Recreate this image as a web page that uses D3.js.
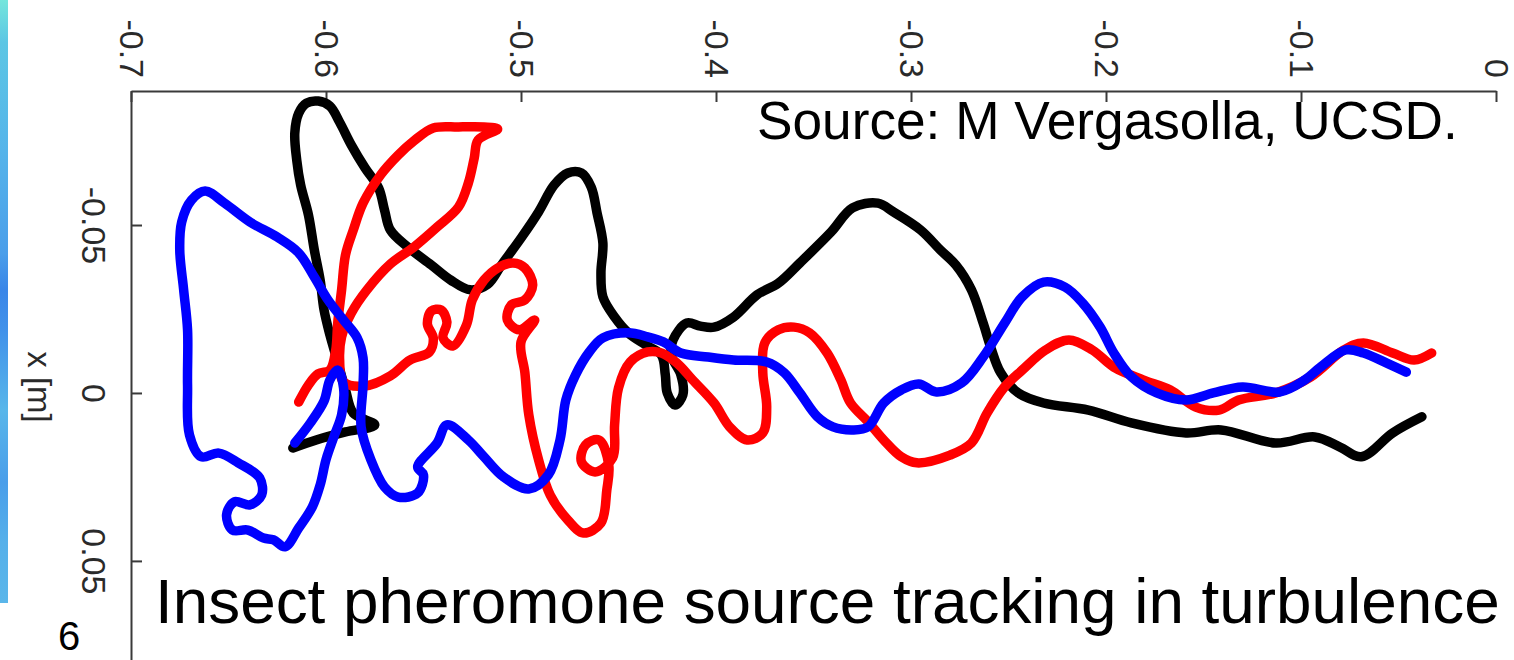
<!DOCTYPE html>
<html>
<head>
<meta charset="utf-8">
<script src="https://cdn.jsdelivr.net/npm/d3@7"></script>
<style>
  html, body { margin: 0; padding: 0; background: #fff; overflow: hidden; }
  svg { display: block; }
</style>
</head>
<body>
<svg id="chart" width="1514" height="660"></svg>
<script>
// Three moth flight tracks; each point is [y, x] in metres.
const blackTrack = [
  [-0.617,0.0164],[-0.605,0.0140],[-0.590,0.0116],[-0.575,0.0095],[-0.586,0.0060],[-0.590,-0.0009],
  [-0.594,-0.0092],[-0.598,-0.0173],[-0.601,-0.0247],[-0.603,-0.0336],[-0.606,-0.0426],[-0.609,-0.0530],
  [-0.613,-0.0619],[-0.615,-0.0693],[-0.616,-0.0774],[-0.614,-0.0833],[-0.610,-0.0863],[-0.604,-0.0869],
  [-0.598,-0.0854],[-0.593,-0.0806],[-0.587,-0.0738],[-0.580,-0.0670],[-0.573,-0.0610],[-0.570,-0.0545],
  [-0.567,-0.0485],[-0.558,-0.0434],[-0.546,-0.0381],[-0.536,-0.0336],[-0.526,-0.0307],[-0.517,-0.0324],
  [-0.510,-0.0381],[-0.500,-0.0461],[-0.491,-0.0539],[-0.483,-0.0619],[-0.476,-0.0655],[-0.469,-0.0655],
  [-0.464,-0.0613],[-0.461,-0.0536],[-0.458,-0.0446],[-0.459,-0.0357],[-0.458,-0.0286],[-0.452,-0.0226],
  [-0.445,-0.0179],[-0.436,-0.0143],[-0.428,-0.0113],[-0.426,-0.0054],[-0.425,0.0000],[-0.421,0.0036],
  [-0.417,0.0006],[-0.418,-0.0054],[-0.423,-0.0113],[-0.422,-0.0158],[-0.415,-0.0208],[-0.408,-0.0199],
  [-0.401,-0.0196],[-0.391,-0.0226],[-0.379,-0.0292],[-0.368,-0.0327],[-0.357,-0.0387],[-0.341,-0.0479],
  [-0.330,-0.0551],[-0.317,-0.0565],[-0.309,-0.0539],[-0.295,-0.0485],[-0.285,-0.0426],[-0.277,-0.0381],
  [-0.269,-0.0307],[-0.263,-0.0208],[-0.259,-0.0134],[-0.254,-0.0060],[-0.245,0.0000],[-0.232,0.0030],
  [-0.209,0.0051],[-0.187,0.0089],[-0.159,0.0119],[-0.141,0.0110],[-0.113,0.0149],[-0.093,0.0131],
  [-0.080,0.0161],[-0.069,0.0190],[-0.053,0.0119],[-0.038,0.0071]
];

const redTrack = [
  [-0.614,0.0027],[-0.609,-0.0024],[-0.604,-0.0057],[-0.598,-0.0068],[-0.595,-0.0128],[-0.594,-0.0208],
  [-0.592,-0.0307],[-0.590,-0.0411],[-0.586,-0.0485],[-0.581,-0.0565],[-0.572,-0.0649],[-0.563,-0.0708],
  [-0.555,-0.0750],[-0.545,-0.0789],[-0.532,-0.0792],[-0.519,-0.0792],[-0.512,-0.0786],[-0.522,-0.0753],
  [-0.524,-0.0699],[-0.527,-0.0625],[-0.532,-0.0554],[-0.543,-0.0494],[-0.555,-0.0434],[-0.567,-0.0384],
  [-0.579,-0.0307],[-0.587,-0.0238],[-0.592,-0.0167],[-0.593,-0.0098],[-0.591,-0.0033],[-0.580,-0.0021],
  [-0.567,-0.0051],[-0.557,-0.0098],[-0.547,-0.0122],[-0.545,-0.0164],[-0.548,-0.0205],[-0.546,-0.0244],
  [-0.541,-0.0247],[-0.538,-0.0211],[-0.540,-0.0164],[-0.535,-0.0140],[-0.528,-0.0202],[-0.525,-0.0277],
  [-0.519,-0.0336],[-0.512,-0.0372],[-0.504,-0.0387],[-0.498,-0.0372],[-0.494,-0.0321],[-0.498,-0.0277],
  [-0.505,-0.0262],[-0.507,-0.0217],[-0.501,-0.0188],[-0.493,-0.0217],[-0.500,-0.0152],[-0.498,-0.0060],
  [-0.496,0.0065],[-0.491,0.0199],[-0.485,0.0304],[-0.476,0.0378],[-0.468,0.0417],[-0.459,0.0387],
  [-0.456,0.0289],[-0.455,0.0214],[-0.460,0.0140],[-0.467,0.0155],[-0.469,0.0205],[-0.462,0.0235],
  [-0.453,0.0193],[-0.452,0.0095],[-0.450,-0.0015],[-0.444,-0.0092],[-0.435,-0.0122],[-0.428,-0.0119],
  [-0.420,-0.0089],[-0.412,-0.0039],[-0.401,0.0030],[-0.393,0.0101],[-0.384,0.0140],[-0.376,0.0119],
  [-0.374,0.0042],[-0.376,-0.0060],[-0.375,-0.0149],[-0.368,-0.0188],[-0.360,-0.0196],[-0.352,-0.0179],
  [-0.343,-0.0119],[-0.336,-0.0039],[-0.331,0.0030],[-0.322,0.0086],[-0.314,0.0140],[-0.305,0.0190],
  [-0.297,0.0208],[-0.280,0.0185],[-0.269,0.0149],[-0.261,0.0060],[-0.252,-0.0018],[-0.243,-0.0068],
  [-0.231,-0.0128],[-0.219,-0.0158],[-0.207,-0.0128],[-0.196,-0.0077],[-0.181,-0.0039],[-0.167,-0.0009],
  [-0.154,0.0042],[-0.142,0.0051],[-0.132,0.0021],[-0.113,0.0000],[-0.095,-0.0048],[-0.078,-0.0128],
  [-0.068,-0.0149],[-0.053,-0.0119],[-0.042,-0.0098],[-0.033,-0.0119]
];

const blueTrack = [
  [-0.616,0.0149],[-0.608,0.0089],[-0.601,0.0024],[-0.598,-0.0039],[-0.594,-0.0068],[-0.591,-0.0015],
  [-0.592,0.0065],[-0.596,0.0131],[-0.600,0.0199],[-0.603,0.0274],[-0.607,0.0339],[-0.614,0.0402],
  [-0.621,0.0458],[-0.627,0.0437],[-0.632,0.0432],[-0.640,0.0408],[-0.648,0.0408],[-0.651,0.0363],
  [-0.647,0.0324],[-0.639,0.0333],[-0.633,0.0304],[-0.634,0.0253],[-0.645,0.0208],[-0.655,0.0179],
  [-0.664,0.0190],[-0.670,0.0125],[-0.671,-0.0024],[-0.671,-0.0188],[-0.673,-0.0307],[-0.675,-0.0426],
  [-0.674,-0.0509],[-0.669,-0.0574],[-0.662,-0.0601],[-0.652,-0.0565],[-0.639,-0.0509],[-0.625,-0.0464],
  [-0.614,-0.0417],[-0.606,-0.0345],[-0.599,-0.0277],[-0.591,-0.0217],[-0.584,-0.0164],[-0.581,-0.0104],
  [-0.581,-0.0024],[-0.582,0.0101],[-0.577,0.0199],[-0.570,0.0280],[-0.563,0.0310],[-0.553,0.0298],
  [-0.550,0.0244],[-0.553,0.0220],[-0.543,0.0149],[-0.538,0.0095],[-0.527,0.0140],[-0.519,0.0190],
  [-0.509,0.0250],[-0.496,0.0286],[-0.486,0.0244],[-0.480,0.0140],[-0.477,0.0021],[-0.472,-0.0054],
  [-0.465,-0.0122],[-0.458,-0.0164],[-0.445,-0.0179],[-0.435,-0.0167],[-0.427,-0.0152],[-0.418,-0.0119],
  [-0.404,-0.0107],[-0.391,-0.0098],[-0.374,-0.0092],[-0.365,-0.0060],[-0.357,0.0000],[-0.348,0.0071],
  [-0.340,0.0101],[-0.330,0.0110],[-0.322,0.0101],[-0.314,0.0030],[-0.305,-0.0009],[-0.296,-0.0027],
  [-0.287,-0.0003],[-0.274,-0.0030],[-0.263,-0.0107],[-0.252,-0.0208],[-0.243,-0.0286],[-0.232,-0.0330],
  [-0.221,-0.0315],[-0.212,-0.0268],[-0.203,-0.0196],[-0.196,-0.0119],[-0.187,-0.0048],[-0.174,0.0000],
  [-0.159,0.0021],[-0.145,0.0000],[-0.130,-0.0018],[-0.111,-0.0003],[-0.098,-0.0039],[-0.090,-0.0077],
  [-0.077,-0.0128],[-0.068,-0.0119],[-0.056,-0.0089],[-0.046,-0.0062]
];

const tracks = [
  { name: "black", color: "#000000", points: blackTrack },
  { name: "red",   color: "#ff0000", points: redTrack },
  { name: "blue",  color: "#0000ff", points: blueTrack }
];

// Axis ticks and their labels
const yTicks = [-0.7, -0.6, -0.5, -0.4, -0.3, -0.2, -0.1, 0];
const yTickLabels = ["-0.7", "-0.6", "-0.5", "-0.4", "-0.3", "-0.2", "-0.1", "0"];
const xTicks = [-0.05, 0, 0.05];
const xTickLabels = ["-0.05", "0", "0.05"];

const svg = d3.select("#chart");
const FONT = "'Liberation Sans', Arial, Helvetica, sans-serif";

// Slide accent strip on the left edge
const defs = svg.append("defs");
const grad = defs.append("linearGradient").attr("id", "strip")
  .attr("x1", 0).attr("y1", 0).attr("x2", 0).attr("y2", 1);
[[0, "#74e6dc"], [0.07, "#5cc6e4"], [0.25, "#55b4ea"], [0.42, "#4a9eea"], [0.48, "#3a86e8"],
 [0.55, "#4192ea"], [0.68, "#58b6ea"], [0.8, "#4a9eea"], [0.9, "#55b0ea"], [1, "#5ab6ea"]]
  .forEach(([o, c]) => grad.append("stop").attr("offset", o).attr("stop-color", c));
svg.append("rect").attr("x", 0).attr("y", 0).attr("width", 8).attr("height", 603)
  .attr("fill", "url(#strip)");

// Horizontal scale: y [m]; vertical scale: x [m] (grows downward)
const yScale = d3.scaleLinear().domain([-0.7, 0]).range([131, 1496]);
const xScale = d3.scaleLinear().domain([-0.0899, 0.0795]).range([91, 660]);

const axisColor = "#3a3a3a";
const labelColor = "#2a2a2a";

// Top axis
const topAxis = d3.axisTop(yScale)
  .tickValues(yTicks)
  .tickFormat((d, i) => yTickLabels[i])
  .tickSizeInner(-11)
  .tickSizeOuter(0);
const gTop = svg.append("g").attr("transform", "translate(0,91)").call(topAxis)
  .attr("font-family", FONT).attr("font-size", 34);
gTop.select(".domain").attr("stroke", axisColor).attr("stroke-width", 2);
gTop.selectAll(".tick line").attr("stroke", axisColor).attr("stroke-width", 2);
gTop.selectAll(".tick text")
  .attr("x", null).attr("y", null).attr("dy", null)
  .attr("transform", "translate(-12,-13) rotate(90)")
  .attr("text-anchor", "end")
  .attr("fill", labelColor);

// Left axis
const leftAxis = d3.axisLeft(xScale)
  .tickValues(xTicks)
  .tickFormat((d, i) => xTickLabels[i])
  .tickSizeInner(-11)
  .tickSizeOuter(0);
const gLeft = svg.append("g").attr("transform", "translate(131,0)").call(leftAxis)
  .attr("font-family", FONT).attr("font-size", 34);
gLeft.select(".domain").attr("stroke", axisColor).attr("stroke-width", 2);
gLeft.selectAll(".tick line").attr("stroke", axisColor).attr("stroke-width", 2);
gLeft.selectAll(".tick text")
  .attr("x", null).attr("y", null).attr("dy", null)
  .attr("transform", "translate(-49,0) rotate(90)")
  .attr("text-anchor", "middle")
  .attr("fill", labelColor);

// Vertical axis title
svg.append("text")
  .attr("transform", "translate(28,387) rotate(90)")
  .attr("text-anchor", "middle")
  .attr("font-family", FONT).attr("font-size", 33)
  .attr("fill", labelColor)
  .text("x [m]");

// Flight tracks
const line = d3.line()
  .x(d => yScale(d[0]))
  .y(d => xScale(d[1]))
  .curve(d3.curveCatmullRom.alpha(0.5));

svg.append("g").selectAll("path").data(tracks).join("path")
  .attr("d", d => line(d.points))
  .attr("fill", "none")
  .attr("stroke", d => d.color)
  .attr("stroke-width", 9.5)
  .attr("stroke-linecap", "round")
  .attr("stroke-linejoin", "round");

// Captions
function fitWidth(sel, target) {
  const fs = +sel.attr("font-size");
  const w = sel.node().getComputedTextLength();
  if (w > 0) sel.attr("font-size", fs * target / w);
}

const source = svg.append("text")
  .attr("x", 757).attr("y", 139)
  .attr("font-family", FONT).attr("font-size", 53)
  .attr("fill", "#000")
  .text("Source: M Vergasolla, UCSD.");
fitWidth(source, 701);

const title = svg.append("text")
  .attr("x", 155).attr("y", 623)
  .attr("font-family", FONT).attr("font-size", 64)
  .attr("fill", "#000")
  .text("Insect pheromone source tracking in turbulence");
fitWidth(title, 1345);

svg.append("text")
  .attr("x", 58).attr("y", 650)
  .attr("font-family", FONT).attr("font-size", 40)
  .attr("fill", "#000")
  .text("6");
</script>
</body>
</html>
